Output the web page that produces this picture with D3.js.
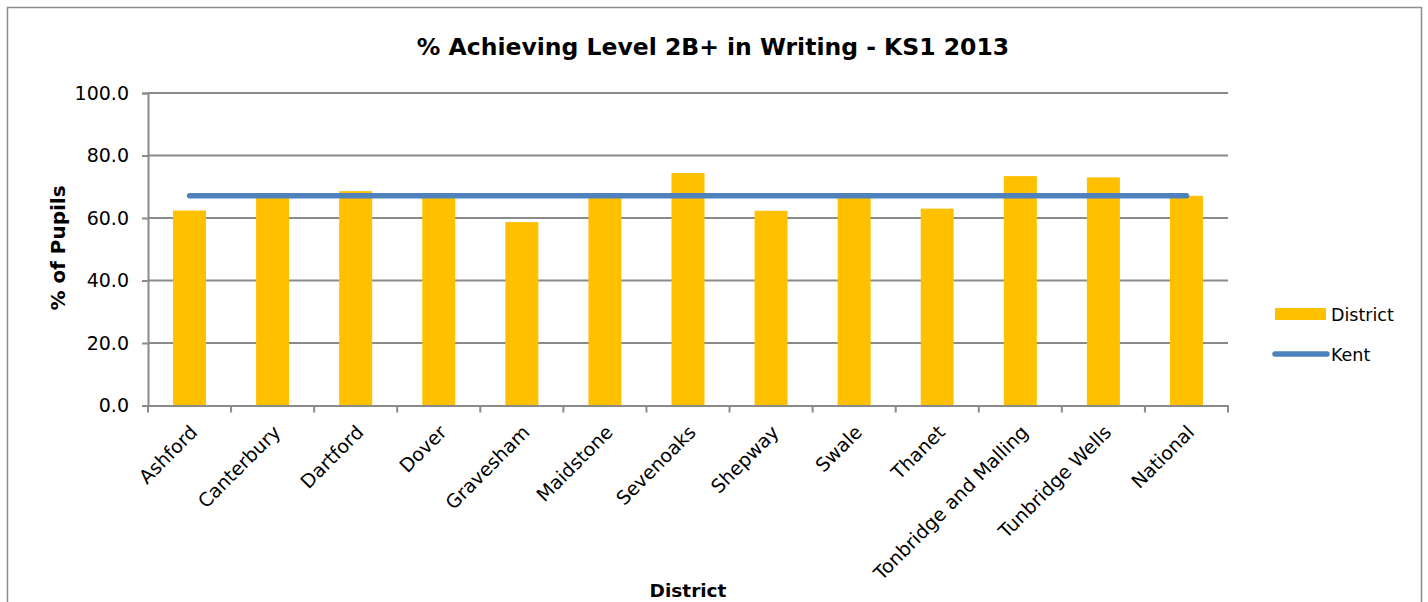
<!DOCTYPE html>
<html><head><meta charset="utf-8">
<script src="https://cdn.jsdelivr.net/npm/d3@7"></script>
<style>html,body{margin:0;padding:0;background:#fff;}svg{display:block;}</style>
</head><body>
<svg id="chart" width="1428" height="602"></svg>
<script>
const categories = ["Ashford","Canterbury","Dartford","Dover","Gravesham","Maidstone","Sevenoaks","Shepway","Swale","Thanet","Tonbridge and Malling","Tunbridge Wells","National"];
const districtValues = [62.4, 66.8, 68.6, 66.6, 58.7, 66.9, 74.4, 62.3, 66.7, 63.0, 73.4, 73.0, 67.1];
const kentValues = [67.1, 67.1, 67.1, 67.1, 67.1, 67.1, 67.1, 67.1, 67.1, 67.1, 67.1, 67.1, 67.1];
const yTicks = [0, 20, 40, 60, 80, 100];
const titleText = "% Achieving Level 2B+ in Writing - KS1 2013";
const yTitle = "% of Pupils";
const xTitle = "District";
const seriesNames = ["District", "Kent"];

const svg = d3.select("#chart");
const m = {left: 148, right: 1228, top: 93, bottom: 405.5};
const font = "'DejaVu Sans', Verdana, sans-serif";

// outer border
svg.append("rect").attr("x", 7.5).attr("y", 7.5).attr("width", 1414).attr("height", 620)
  .attr("fill", "#fff").attr("stroke", "#8c8c8c").attr("stroke-width", 1.5);

const xc = d3.scaleBand().domain(categories).range([m.left, m.right]);
const y = d3.scaleLinear().domain([0, 100]).range([m.bottom, m.top]);

// gridlines
svg.append("g").selectAll("line").data(yTicks.filter(d => d > 0)).join("line")
  .attr("x1", m.left).attr("x2", m.right).attr("y1", d => y(d)).attr("y2", d => y(d))
  .attr("stroke", "#8a8a8a").attr("stroke-width", 2);

// bars
svg.append("g").selectAll("rect").data(districtValues).join("rect")
  .attr("x", (d, i) => xc(categories[i]) + xc.bandwidth() / 2 - 16.5)
  .attr("width", 33)
  .attr("y", d => y(d)).attr("height", d => y(0) - y(d))
  .attr("fill", "#FFC000");

// y axis
const yAxis = d3.axisLeft(y).tickValues(yTicks).tickFormat(d3.format(".1f")).tickSize(6).tickPadding(13);
const gy = svg.append("g").attr("transform", `translate(${m.left},0)`).call(yAxis);
gy.select(".domain").attr("stroke", "#8a8a8a").attr("stroke-width", 2);
gy.selectAll(".tick line").attr("stroke", "#8a8a8a").attr("stroke-width", 2);
gy.selectAll("text").attr("font-family", font).attr("font-size", 19).attr("fill", "#000");

// x axis
const xAxis = d3.axisBottom(xc).tickSize(0).tickFormat("");
const gx = svg.append("g").attr("transform", `translate(0,${m.bottom})`).call(xAxis);
gx.select(".domain").attr("stroke", "#8a8a8a").attr("stroke-width", 2);
gx.selectAll(".tick").remove();
const bounds = categories.map(c => xc(c)).concat([m.right]);
gx.selectAll("line.tk").data(bounds).join("line").attr("class", "tk")
  .attr("x1", d => d).attr("x2", d => d).attr("y1", 0).attr("y2", 7)
  .attr("stroke", "#8a8a8a").attr("stroke-width", 2);

// x labels
svg.append("g").selectAll("text").data(categories).join("text")
  .attr("transform", d => `translate(${xc(d) + xc.bandwidth() / 2 + 9},${m.bottom + 28}) rotate(-45)`)
  .attr("text-anchor", "end")
  .attr("font-family", font).attr("font-size", 19).attr("fill", "#000")
  .text(d => d);

// Kent line
const line = d3.line().x((d, i) => xc(categories[i]) + xc.bandwidth() / 2).y(d => y(d));
svg.append("path").datum(kentValues).attr("d", line)
  .attr("fill", "none").attr("stroke", "#4F81BD").attr("stroke-width", 5.5).attr("stroke-linecap", "round");

// title
svg.append("text").attr("x", 713).attr("y", 55).attr("text-anchor", "middle")
  .attr("font-family", font).attr("font-weight", "bold").attr("font-size", 23.5).attr("fill", "#000")
  .text(titleText);

// axis titles
svg.append("text").attr("transform", `translate(65,248) rotate(-90)`).attr("text-anchor", "middle")
  .attr("font-family", font).attr("font-weight", "bold").attr("font-size", 20).text(yTitle);
svg.append("text").attr("x", 688).attr("y", 597).attr("text-anchor", "middle")
  .attr("font-family", font).attr("font-weight", "bold").attr("font-size", 18.5).text(xTitle);

// legend
const lg = svg.append("g");
lg.append("rect").attr("x", 1275).attr("y", 308).attr("width", 51).attr("height", 12).attr("fill", "#FFC000");
lg.append("text").attr("x", 1331).attr("y", 321).attr("font-family", font).attr("font-size", 17.5).text(seriesNames[0]);
lg.append("line").attr("x1", 1275).attr("x2", 1327).attr("y1", 354).attr("y2", 354)
  .attr("stroke", "#4F81BD").attr("stroke-width", 5.5).attr("stroke-linecap", "round");
lg.append("text").attr("x", 1331).attr("y", 361).attr("font-family", font).attr("font-size", 17.5).text(seriesNames[1]);
</script>
</body></html>
